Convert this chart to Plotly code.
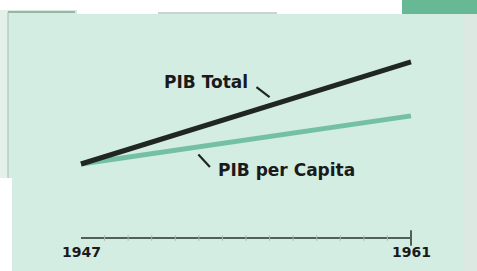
import plotly.graph_objects as go

# ---- data ----
years = [1947, 1961]
pib_total = [100, 238]          # index, 1947 = 100
pib_per_capita = [100, 165]     # index, 1947 = 100
axis_years = list(range(1947, 1962))
tick_labels = ["1947", "1961"]
series_names = ["PIB Total", "PIB per Capita"]

# ---- geometry helpers (figure 477x271) ----
W, H = 477, 271
L, R, T, B = 76, 61, 10, 20
PW, PH = W - L - R, H - T - B
def px(x):  # pixel -> paper x
    return (x - L) / PW
def py(y):  # pixel -> paper y
    return (H - B - y) / PH

MINT = "#d4ede2"
DARK = "#1f2624"
TEAL = "#74c0a4"
AXIS = "#52605b"

fig = go.Figure()

# x axis baseline drawn along the years
fig.add_trace(go.Scatter(x=[axis_years[0], axis_years[-1]], y=[0, 0], mode="lines",
                         line=dict(color=AXIS, width=2), hoverinfo="skip"))
fig.add_trace(go.Scatter(x=axis_years[1:-1], y=[0] * (len(axis_years) - 2), mode="markers",
                         marker=dict(symbol="line-ns", size=4, line=dict(color="#a7bbb3", width=1)),
                         hoverinfo="skip"))
fig.add_trace(go.Scatter(x=[axis_years[-1]], y=[0], mode="markers",
                         marker=dict(symbol="line-ns", size=11, line=dict(color=AXIS, width=2)),
                         hoverinfo="skip"))

# series
fig.add_trace(go.Scatter(x=years, y=pib_per_capita, mode="lines", name=series_names[1],
                         line=dict(color=TEAL, width=5)))
fig.add_trace(go.Scatter(x=years, y=pib_total, mode="lines", name=series_names[0],
                         line=dict(color=DARK, width=5)))

font_lbl = dict(family="DejaVu Sans", size=17, color="#1a1a1a", weight="bold")
font_yr = dict(family="DejaVu Sans", size=14, color="#1a1a1a", weight="bold")

ann = [
    dict(x=1952.3, y=211, text=series_names[0], showarrow=False, font=font_lbl,
         xanchor="center", yanchor="middle"),
    dict(x=1955.0, y=190.5, ax=1954.38, ay=205.4, axref="x", ayref="y", text="",
         showarrow=True, arrowhead=0, arrowwidth=2.2, arrowcolor=DARK, standoff=0),
    dict(x=1955.7, y=92, text=series_names[1], showarrow=False, font=font_lbl,
         xanchor="center", yanchor="middle"),
    dict(x=1952.47, y=96, ax=1951.92, ay=115, axref="x", ayref="y", text="",
         showarrow=True, arrowhead=0, arrowwidth=2.2, arrowcolor=DARK, standoff=0),
    dict(x=axis_years[0], y=0, text=tick_labels[0], showarrow=False, font=font_yr,
         xanchor="center", yanchor="middle", yshift=-14),
    dict(x=axis_years[-1], y=0, text=tick_labels[1], showarrow=False, font=font_yr,
         xanchor="center", yanchor="middle", yshift=-14),
]

def rect(x0, y0, x1, y1, color):
    return dict(type="rect", xref="paper", yref="paper", x0=px(x0), x1=px(x1),
                y0=py(y1), y1=py(y0), fillcolor=color, line=dict(width=0), layer="below")

def seg(x0, y0, x1, y1, color, w=1):
    return dict(type="line", xref="paper", yref="paper", x0=px(x0), x1=px(x1),
                y0=py(y0), y1=py(y1), line=dict(color=color, width=w), layer="below")

shapes = [
    rect(0, 0, 77, 10, "#ffffff"),
    rect(77, 0, 402, 14, "#ffffff"),
    rect(402, 0, W, 14, "#66b994"),
    rect(0, 10, 8, 178, "#e4f1eb"),
    rect(0, 178, 12, H, "#ffffff"),
    rect(463, 14, W, H, "#dce8e2"),
    seg(8, 12, 75, 12, "#8c9c96", 1.5),
    seg(8, 12, 8, 178, "#a9bab3", 1),
    seg(158, 13, 277, 13, "#b7c4bf", 1.5),
]

fig.update_layout(
    width=W, height=H, margin=dict(l=L, r=R, t=T, b=B),
    paper_bgcolor=MINT, plot_bgcolor="rgba(0,0,0,0)",
    showlegend=False,
    xaxis=dict(range=[1947 - 5 / (330 / 14), 1961 + 5 / (330 / 14)], visible=False, fixedrange=True),
    yaxis=dict(range=[-(251 - 238) / 0.74, (238 - 10) / 0.74], visible=False, fixedrange=True),
    annotations=ann, shapes=shapes,
)

fig.write_html("out.html", config={"displayModeBar": False},
               post_script="document.body.style.margin='0';document.body.style.overflow='hidden';")
